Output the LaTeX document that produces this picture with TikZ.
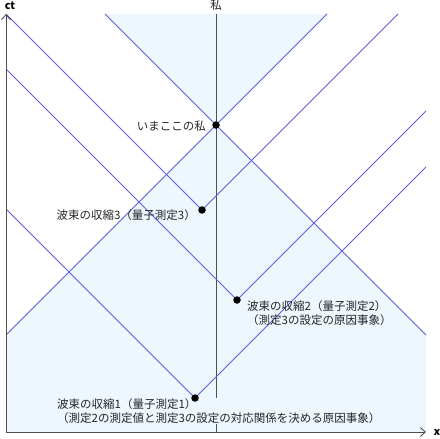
\documentclass[tikz,border=0pt]{standalone}
\usepackage{fontspec}
\setmainfont{Noto Sans CJK JP}
\usetikzlibrary{arrows.meta}
\definecolor{lcfill}{HTML}{EEF6FE}
\definecolor{lcblue}{HTML}{5E5EDE}
\definecolor{axisgray}{HTML}{505050}
\begin{document}
\begin{tikzpicture}[x=1pt,y=-1pt,
  coneline/.style={draw=lcblue,line width=0.8pt},
  axisline/.style={draw=axisgray,line width=0.9pt},
  event/.style={circle,fill=black,inner sep=0pt,minimum size=7.5pt},
  lbl/.style={inner sep=0pt,font=\fontsize{11.5}{14}\selectfont,text=black!85},
  axlbl/.style={inner sep=0pt,font=\fontsize{10.6}{12}\selectfont\bfseries}]
\useasboundingbox (0,0) rectangle (440,439);
% shading
\fill[lcfill] (216,125) -- (6,335) -- (6,432) -- (426,432) -- (426,335) -- cycle;
\fill[lcfill] (216,125) -- (105,14) -- (327,14) -- cycle;
% coordinates
\coordinate (M) at (216,125);
\coordinate (E3) at (202,210);
\coordinate (E2) at (237,300);
\coordinate (E1) at (195,398);
\coordinate (Ma) at (105,14);
\coordinate (Mb) at (426,335);
\coordinate (Mc) at (327,14);
\coordinate (Md) at (6,335);
\coordinate (E3a) at (6,14);
\coordinate (E3b) at (398,14);
\coordinate (E2a) at (6,69);
\coordinate (E2b) at (426,111);
\coordinate (E1a) at (6,209);
\coordinate (E1b) at (426,167);
\coordinate (O) at (6,432);
\coordinate (Ytop) at (6,14);
\coordinate (Xend) at (426,432);
\coordinate (Wtop) at (216,14);
\coordinate (Wbot) at (216,432);
% worldline of me
\draw[axisline] (Wtop) -- (Wbot);
% label 1 (covers worldline)
\node[lbl,fill=lcfill,inner sep=1pt,anchor=west,align=left] (L1) at (56,411)
  {波束の収縮1（量子測定1）\\（測定2の測定値と測定3の設定の対応関係を決める原因事象）};
% light cone lines
\draw[coneline] (M) -- (Ma);
\draw[coneline] (M) -- (Mb);
\draw[coneline] (M) -- (Mc);
\draw[coneline] (M) -- (Md);
\draw[coneline] (E3) -- (E3a);
\draw[coneline] (E3) -- (E3b);
\draw[coneline] (E2) -- (E2a);
\draw[coneline] (E2) -- (E2b);
\draw[coneline] (E1) -- (E1a);
\draw[coneline] (E1) -- (E1b);
% axes
\draw[axisline,-{Straight Barb[length=5pt,width=9pt]}] (O) -- (Ytop);
\draw[axisline,-{Straight Barb[length=5pt,width=9pt]}] (O) -- (Xend);
% events
\node[event] (nM) at (M) {};
\node[event] (n3) at (E3) {};
\node[event] (n2) at (E2) {};
\node[event] (n1) at (E1) {};
% labels
\node[axlbl] (ct) at (10,6) {ct};
\node[axlbl] (xl) at (437,432) {x};
\node[lbl] (me) at (216,5) {私};
\node[lbl,anchor=east] (Lm) at (206,126) {いまここの私};
\node[lbl,anchor=east] (L3) at (196,215) {波束の収縮3（量子測定3）};
\node[lbl,anchor=west,align=left] (L2) at (247,313)
  {波束の収縮2（量子測定2）\\（測定3の設定の原因事象）};
\end{tikzpicture}
\end{document}
